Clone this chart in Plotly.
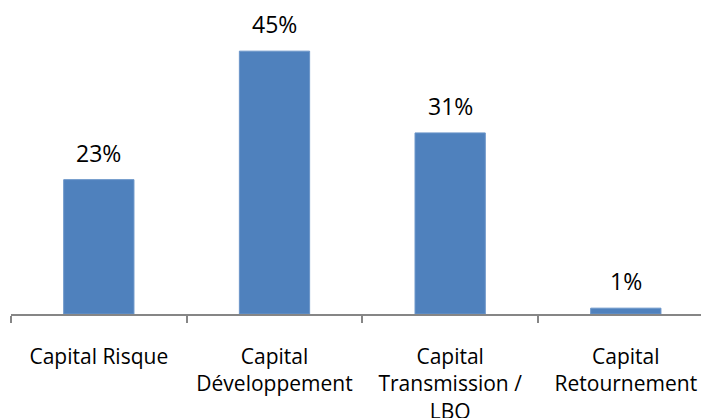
import plotly.graph_objects as go

categories = ["Capital Risque", "Capital<br>Développement", "Capital<br>Transmission /<br>LBO", "Capital<br>Retournement"]
values = [23, 45, 31, 1]
labels = ["23%", "45%", "31%", "1%"]

fig = go.Figure()
fig.add_trace(go.Bar(
    x=categories, y=values,
    marker=dict(color="#4F81BD", line=dict(color="#6B95C9", width=1)),
    hoverinfo="skip",
))

for c, v, t in zip(categories, values, labels):
    fig.add_annotation(x=c, y=v, text=t, showarrow=False, yanchor="bottom",
                       yshift=9, font=dict(family="Open Sans", size=23, color="#000000"))

fig.update_layout(
    width=701, height=418,
    margin=dict(l=11, r=0, t=5, b=104),
    plot_bgcolor="white", paper_bgcolor="white",
    bargap=0.6, showlegend=False,
    font=dict(family="Open Sans", size=21, color="#000000"),
)
fig.update_xaxes(
    type="category", range=[-0.5, 3.428], automargin=False,
    showline=True, linecolor="#868686", linewidth=1.5,
    ticks="outside", tickson="boundaries", ticklen=7, tickcolor="#868686", tickwidth=1.5,
    showgrid=False, ticklabelstandoff=23,
    tickfont=dict(family="Open Sans", size=21, color="#000000"),
)
fig.update_yaxes(range=[0, 52.9], visible=False, showgrid=False, zeroline=False)

fig.write_html("out.html", config={"displayModeBar": False},
               post_script="document.body.style.margin='0';document.body.style.overflow='hidden';")
